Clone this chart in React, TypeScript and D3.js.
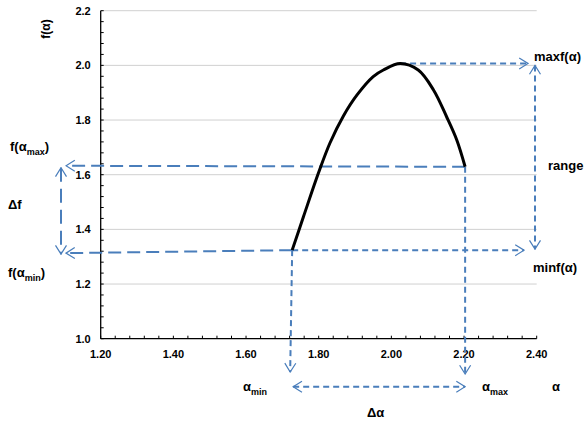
import React, { useRef, useEffect } from 'react';
import * as d3 from 'd3';

// multifractal spectrum f(alpha)
const alpha = [1.727, 1.758, 1.799, 1.831, 1.868, 1.905, 1.950, 1.978, 2.024, 2.074, 2.116, 2.152, 2.180, 2.203];
const falpha = [1.324, 1.446, 1.605, 1.716, 1.815, 1.891, 1.959, 1.983, 2.007, 1.983, 1.910, 1.812, 1.727, 1.629];

const xTicks = [1.2, 1.4, 1.6, 1.8, 2.0, 2.2, 2.4];
const yTicks = [1.0, 1.2, 1.4, 1.6, 1.8, 2.0, 2.2];

const BLUE = '#4a7ebb';

const App = () => {
  const ref = useRef<SVGSVGElement>(null);

  useEffect(() => {
    const svg = d3.select(ref.current);
    svg.selectAll('*').remove();
    const width = 584;
    const height = 425;
    const margin = { top: 10.7, right: 47.3, bottom: 86.3, left: 100.7 };

    const x = d3.scaleLinear().domain([1.2, 2.4]).range([margin.left, width - margin.right]);
    const y = d3.scaleLinear().domain([1.0, 2.2]).range([height - margin.bottom, margin.top]);

    const defs = svg.append('defs');
    defs.append('marker')
      .attr('id', 'arr')
      .attr('viewBox', '0 0 10 12')
      .attr('refX', 9)
      .attr('refY', 6)
      .attr('markerWidth', 5.5)
      .attr('markerHeight', 6.6)
      .attr('markerUnits', 'strokeWidth')
      .attr('orient', 'auto-start-reverse')
      .append('path')
      .attr('d', 'M1,1 L9,6 L1,11')
      .attr('fill', 'none')
      .attr('stroke', BLUE)
      .attr('stroke-width', 1.1);

    // gridlines
    svg.append('g')
      .selectAll('line')
      .data(yTicks.slice(1))
      .enter().append('line')
      .attr('x1', x(1.2)).attr('x2', x(2.4))
      .attr('y1', d => y(d)).attr('y2', d => y(d))
      .attr('stroke', '#d0d0d0')
      .attr('stroke-width', 1);

    // minor ticks (inside)
    const minor = d3.range(0, 31).map(i => i * 0.04);
    svg.append('g')
      .selectAll('line')
      .data(minor)
      .enter().append('line')
      .attr('x1', d => x(1.2 + d)).attr('x2', d => x(1.2 + d))
      .attr('y1', y(1.0)).attr('y2', y(1.0) - 3)
      .attr('stroke', '#000');
    svg.append('g')
      .selectAll('line')
      .data(minor)
      .enter().append('line')
      .attr('y1', d => y(1.0 + d)).attr('y2', d => y(1.0 + d))
      .attr('x1', x(1.2)).attr('x2', x(1.2) + 3)
      .attr('stroke', '#000');

    // axes lines
    svg.append('line')
      .attr('x1', x(1.2)).attr('x2', x(2.4))
      .attr('y1', y(1.0)).attr('y2', y(1.0))
      .attr('stroke', '#000').attr('stroke-width', 1.3);
    svg.append('line')
      .attr('x1', x(1.2)).attr('x2', x(1.2))
      .attr('y1', y(1.0)).attr('y2', y(2.2))
      .attr('stroke', '#000').attr('stroke-width', 1.3);

    const font = "'Liberation Sans', Arial, sans-serif";

    svg.append('g')
      .selectAll('text')
      .data(xTicks)
      .enter().append('text')
      .attr('x', d => x(d))
      .attr('y', y(1.0) + 19)
      .attr('text-anchor', 'middle')
      .attr('font-family', font)
      .attr('font-weight', 'bold')
      .attr('font-size', 11)
      .text(d => d.toFixed(2));

    svg.append('g')
      .selectAll('text')
      .data(yTicks)
      .enter().append('text')
      .attr('x', x(1.2) - 10)
      .attr('y', d => y(d) + 4)
      .attr('text-anchor', 'end')
      .attr('font-family', font)
      .attr('font-weight', 'bold')
      .attr('font-size', 11)
      .text(d => d.toFixed(1));

    svg.append('text')
      .attr('transform', `translate(50, 29) rotate(-90)`)
      .attr('text-anchor', 'middle')
      .attr('font-family', font)
      .attr('font-weight', 'bold')
      .attr('font-size', 12)
      .text('f(α)');

    // dashed annotation arrows
    const aMin = alpha[0];
    const aMax = alpha[alpha.length - 1];
    const fMinEnd = falpha[0];
    const fMaxEnd = falpha[falpha.length - 1];
    const fPeak = d3.max(falpha) as number;
    const aPeak = alpha[falpha.indexOf(fPeak)];

    const longDash = '13,6';
    const shortDash = '6,4';
    const arrow = (x1: number, y1: number, x2: number, y2: number, dash: string, start: boolean, end: boolean) => {
      const l = svg.append('line')
        .attr('x1', x1).attr('y1', y1).attr('x2', x2).attr('y2', y2)
        .attr('stroke', BLUE)
        .attr('stroke-width', 2)
        .attr('stroke-dasharray', dash);
      if (start) l.attr('marker-start', 'url(#arr)');
      if (end) l.attr('marker-end', 'url(#arr)');
    };

    arrow(x(aMax), y(fMaxEnd), 66, y(fMaxEnd) - 1, longDash, false, true);
    arrow(x(aMin), y(fMinEnd), 66, y(fMinEnd) + 3, longDash, false, true);
    arrow(61, y(fMaxEnd) + 1, 61, y(fMinEnd) + 4, '14,7', true, true);
    arrow(x(aMin), y(fMinEnd), 524, y(fMinEnd), shortDash, false, true);
    arrow(x(aPeak), y(fPeak), 528, y(fPeak), shortDash, false, true);
    arrow(535, y(fPeak) + 2, 535, y(fMinEnd) - 1, shortDash, true, true);
    arrow(x(aMin), y(fMinEnd), x(aMin) - 2, 372, shortDash, false, true);
    arrow(x(aMax), y(fMaxEnd), x(aMax), 374, shortDash, false, true);
    arrow(x(aMin) + 1, 386.7, x(aMax), 386.7, shortDash, true, true);

    // curve
    const line = d3.line<number>()
      .x((d, i) => x(alpha[i]))
      .y(d => y(d))
      .curve(d3.curveCatmullRom.alpha(0.5));
    svg.append('path')
      .attr('d', line(falpha))
      .attr('fill', 'none')
      .attr('stroke', '#000')
      .attr('stroke-width', 3)
      .attr('stroke-linejoin', 'round');

    // labels
    const label = (tx: number, ty: number, main: string, sub?: string, tail?: string) => {
      const t = svg.append('text')
        .attr('x', tx).attr('y', ty)
        .attr('font-family', font)
        .attr('font-weight', 'bold')
        .attr('font-size', 13);
      t.append('tspan').text(main);
      if (sub) {
        t.append('tspan').attr('dy', 4).attr('font-size', 9).text(sub);
        if (tail) t.append('tspan').attr('dy', -4).text(tail);
      }
    };
    label(10, 151, 'f(α', 'max', ')');
    label(8, 209, 'Δf');
    label(8, 277, 'f(α', 'min', ')');
    label(534, 61, 'maxf(α)');
    label(548, 170, 'range');
    label(533, 272, 'minf(α)');
    label(243, 391, 'α', 'min');
    label(482, 391, 'α', 'max');
    label(552, 391, 'α');
    label(367, 417, 'Δα');
  }, []);

  return (
    <svg ref={ref} width={584} height={425} style={{ position: 'absolute', left: 0, top: 0, background: '#fff' }} />
  );
};

export default App;
